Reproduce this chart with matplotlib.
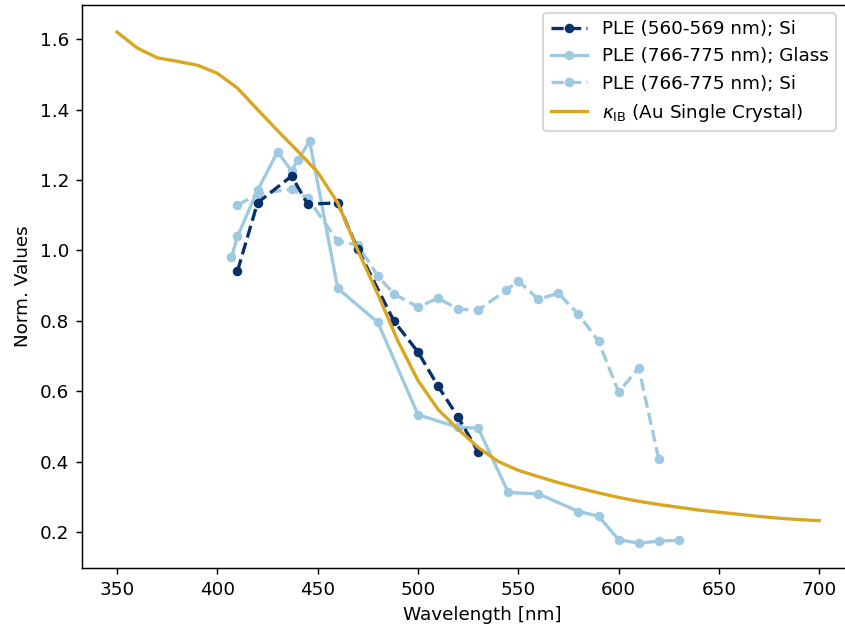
import matplotlib
matplotlib.use("Agg")
import matplotlib.pyplot as plt

# PLE (560-569 nm); Si
wl_a = [410, 420, 437, 445, 460, 470, 488, 500, 510, 520, 530]
ple_a = [0.941, 1.135, 1.211, 1.131, 1.135, 1.003, 0.799, 0.711, 0.614, 0.526, 0.427]

# PLE (766-775 nm); Glass
wl_b = [407, 410, 420, 430, 437, 440, 446, 460, 480, 500, 520, 530, 545, 560, 580, 590, 600, 610, 620, 630]
ple_b = [0.98, 1.04, 1.17, 1.28, 1.225, 1.256, 1.31, 0.892, 0.795, 0.533, 0.497, 0.495, 0.312, 0.308,
         0.258, 0.245, 0.178, 0.168, 0.174, 0.176]

# PLE (766-775 nm); Si
wl_c = [410, 420, 437, 445, 460, 470, 480, 488, 500, 510, 520, 530, 544, 550, 560, 570, 580, 590, 600, 610, 620]
ple_c = [1.128, 1.16, 1.174, 1.148, 1.026, 1.015, 0.927, 0.876, 0.839, 0.864, 0.833, 0.830, 0.887,
         0.913, 0.861, 0.878, 0.818, 0.742, 0.597, 0.666, 0.407]

# kappa_IB (Au single crystal)
wl_k = [350, 360, 370, 380, 390, 400, 410, 420, 430, 440, 450, 460, 470, 480, 490, 500, 510, 520,
        530, 540, 550, 560, 570, 580, 590, 600, 610, 620, 630, 640, 650, 660, 670, 680, 690, 700]
kappa = [1.620, 1.575, 1.547, 1.537, 1.526, 1.503, 1.461, 1.400, 1.340, 1.282, 1.222, 1.135, 1.000,
         0.875, 0.742, 0.630, 0.548, 0.492, 0.440, 0.400, 0.375, 0.357, 0.340, 0.325, 0.311, 0.298,
         0.287, 0.278, 0.270, 0.262, 0.256, 0.250, 0.244, 0.239, 0.235, 0.232]

dark = "#08306b"
light = "#9ecae1"
gold = "#daa520"

fig = plt.figure(figsize=(845 / 132, 633 / 132), dpi=132)
ax_w_px = 800.0
ax = fig.add_axes([82 / 845, 65 / 633, ax_w_px / 845, 563 / 633])

ax.plot(wl_a, ple_a, "--o", color=dark, lw=1.8, ms=4.2, label="PLE (560-569 nm); Si", zorder=4)
ax.plot(wl_b, ple_b, "-o", color=light, lw=1.8, ms=4.2, label="PLE (766-775 nm); Glass", zorder=3)
ax.plot(wl_c, ple_c, "--o", color=light, lw=1.8, ms=4.2, label="PLE (766-775 nm); Si", zorder=3)
ax.plot(wl_k, kappa, "-", color=gold, lw=1.8, label=r"$\kappa_{\mathrm{IB}}$ (Au Single Crystal)", zorder=5)

ax.set_xlim(332.5, 332.5 + ax_w_px / 2.006)
ax.set_ylim(0.0975, 1.697)
ax.set_xticks([350, 400, 450, 500, 550, 600, 650, 700])
ax.set_yticks([0.2, 0.4, 0.6, 0.8, 1.0, 1.2, 1.4, 1.6])
ax.set_xlabel("Wavelength [nm]")
ax.set_ylabel("Norm. Values")

ax.legend(loc="upper right", bbox_to_anchor=(836 / 845, 1 - 13 / 633),
          bbox_transform=fig.transFigure, borderaxespad=0, fontsize=10)

fig.savefig("out.png", dpi=132)
